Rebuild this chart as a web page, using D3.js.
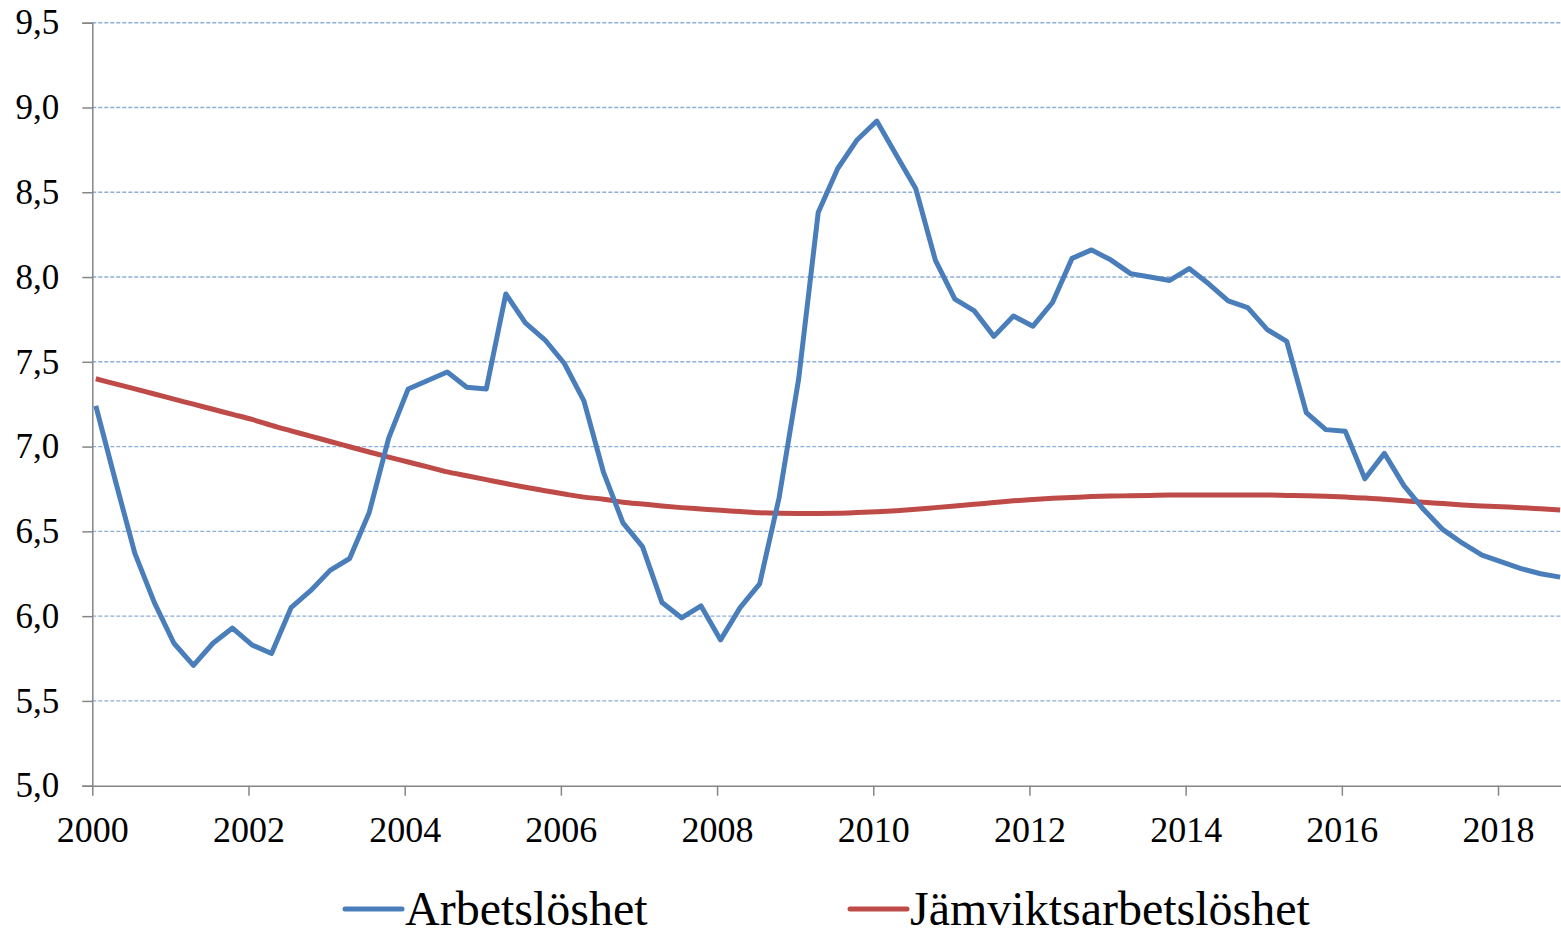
<!DOCTYPE html>
<html>
<head>
<meta charset="utf-8">
<script src="https://cdn.jsdelivr.net/npm/d3@7"></script>
<style>
  body { margin: 0; background: #fff; }
  text { font-family: "Liberation Serif", "Times New Roman", serif; fill: #000; }
</style>
</head>
<body>
<svg id="chart" width="1561" height="934"></svg>
<script>
// kvartal 2000K1 .. 2018K4
const firstYear = 2000;
const nQuarters = 76;

const arbetsloshet = [
  7.24, 6.80, 6.37, 6.08, 5.84, 5.71, 5.84, 5.93, 5.83, 5.78,
  6.05, 6.15, 6.27, 6.34, 6.61, 7.05, 7.34, 7.39, 7.44, 7.35,
  7.34, 7.90, 7.73, 7.63, 7.49, 7.27, 6.85, 6.55, 6.41, 6.08,
  5.99, 6.06, 5.86, 6.05, 6.19, 6.70, 7.40, 8.38, 8.64, 8.81,
  8.92, 8.72, 8.52, 8.10, 7.87, 7.80, 7.65, 7.77, 7.71, 7.85,
  8.11, 8.16, 8.10, 8.02, 8.00, 7.98, 8.05, 7.96, 7.86, 7.82,
  7.69, 7.62, 7.20, 7.10, 7.09, 6.81, 6.96, 6.77, 6.63, 6.51,
  6.43, 6.36, 6.32, 6.28, 6.25, 6.23
];

const jamviktsarbetsloshet = [
  7.40, 7.37, 7.34, 7.31, 7.28, 7.25, 7.22, 7.19, 7.16, 7.125,
  7.093, 7.062, 7.03, 6.999, 6.968, 6.938, 6.909, 6.88, 6.851, 6.828,
  6.805, 6.782, 6.76, 6.74, 6.72, 6.702, 6.69, 6.672, 6.661, 6.65,
  6.64, 6.632, 6.624, 6.617, 6.61, 6.607, 6.606, 6.606, 6.607, 6.611,
  6.616, 6.622, 6.63, 6.64, 6.65, 6.66, 6.67, 6.68, 6.688, 6.695,
  6.70, 6.705, 6.708, 6.71, 6.712, 6.714, 6.714, 6.714, 6.714, 6.714,
  6.714, 6.712, 6.71, 6.707, 6.702, 6.697, 6.689, 6.68, 6.672, 6.664,
  6.656, 6.65, 6.645, 6.64, 6.633, 6.626
];

const yTicks = [5.0, 5.5, 6.0, 6.5, 7.0, 7.5, 8.0, 8.5, 9.0, 9.5];
const xTicks = [2000, 2002, 2004, 2006, 2008, 2010, 2012, 2014, 2016, 2018];

const seriesNames = ["Arbetslöshet", "Jämviktsarbetslöshet"];
const seriesColors = ["#4a7ebb", "#be4b48"];

const quarters = d3.range(nQuarters).map(i => firstYear + 0.045 + i * 0.25);

const svg = d3.select("#chart");
const plot = { left: 92.3, right: 1560.5, top: 22.7, bottom: 785.7 };

const x = d3.scaleLinear().domain([2000, 2018.8]).range([plot.left, plot.right]);
const y = d3.scaleLinear().domain([5, 9.5]).range([plot.bottom, plot.top]);

const fmt = v => d3.format(".1f")(v).replace(".", ",");

// gridlines
svg.append("g")
  .selectAll("line")
  .data(yTicks.filter(d => d > 5))
  .enter()
  .append("line")
  .attr("x1", plot.left)
  .attr("x2", 1561)
  .attr("y1", d => y(d))
  .attr("y2", d => y(d))
  .attr("stroke", "#8eaed8")
  .attr("stroke-width", 1.4)
  .attr("stroke-dasharray", "4,2");

// y axis
const yAxis = svg.append("g")
  .attr("transform", `translate(${plot.left},0)`)
  .call(d3.axisLeft(y).tickValues(yTicks).tickFormat(fmt).tickSize(10).tickPadding(23));
yAxis.select(".domain").attr("stroke", "#868686").attr("stroke-width", 1.5);
yAxis.selectAll(".tick line").attr("stroke", "#868686").attr("stroke-width", 1.5);
yAxis.selectAll(".tick text")
  .style("font-size", "35px")
  .style("font-family", "'Liberation Serif', serif")
  .attr("fill", "#000");

// x axis
const xAxis = svg.append("g")
  .attr("transform", `translate(0,${plot.bottom})`)
  .call(d3.axisBottom(x).tickValues(xTicks).tickFormat(d3.format("d")).tickSize(10).tickPadding(21).tickSizeOuter(0));
xAxis.select(".domain").attr("stroke", "#868686").attr("stroke-width", 1.5);
xAxis.selectAll(".tick line").attr("stroke", "#868686").attr("stroke-width", 1.5);
xAxis.selectAll(".tick text")
  .style("font-size", "36px")
  .style("font-family", "'Liberation Serif', serif")
  .attr("fill", "#000");

// lines
const line = d3.line()
  .x((d, i) => x(quarters[i]))
  .y(d => y(d));

const smooth = d3.line()
  .x((d, i) => x(quarters[i]))
  .y(d => y(d))
  .curve(d3.curveMonotoneX);

svg.append("path")
  .datum(jamviktsarbetsloshet)
  .attr("d", smooth)
  .attr("fill", "none")
  .attr("stroke", seriesColors[1])
  .attr("stroke-width", 5);

svg.append("path")
  .datum(arbetsloshet)
  .attr("d", line)
  .attr("fill", "none")
  .attr("stroke", seriesColors[0])
  .attr("stroke-width", 5)
  .attr("stroke-linejoin", "round");

// legend
const legendX = [345, 850];
const legend = svg.append("g");
seriesNames.forEach((name, i) => {
  legend.append("line")
    .attr("x1", legendX[i])
    .attr("x2", legendX[i] + 57)
    .attr("y1", 909)
    .attr("y2", 909)
    .attr("stroke", seriesColors[i])
    .attr("stroke-width", 5)
    .attr("stroke-linecap", "round");
  legend.append("text")
    .attr("x", legendX[i] + 60)
    .attr("y", 925)
    .style("font-size", "48px")
    .text(name);
});
</script>
</body>
</html>
